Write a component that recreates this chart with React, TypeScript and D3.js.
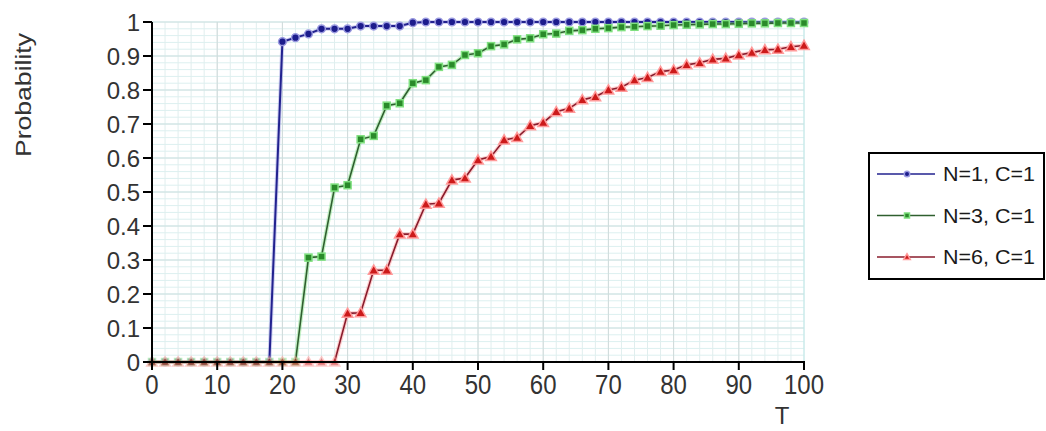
import React from 'react';
import * as d3 from 'd3';

// T values (every 2 units)
const tValues = [0, 2, 4, 6, 8, 10, 12, 14, 16, 18, 20, 22, 24, 26, 28, 30, 32, 34, 36, 38, 40,
  42, 44, 46, 48, 50, 52, 54, 56, 58, 60, 62, 64, 66, 68, 70, 72, 74, 76, 78, 80,
  82, 84, 86, 88, 90, 92, 94, 96, 98, 100];

const n1Values = [0, 0, 0, 0, 0, 0, 0, 0, 0, 0,
  0.942, 0.954, 0.965, 0.98, 0.98, 0.98, 0.988, 0.988, 0.988, 0.988, 0.998,
  1, 1, 1, 1, 1, 1, 1, 1, 1, 1, 1, 1, 1, 1, 1, 1, 1, 1, 1, 1, 1, 1, 1, 1, 1, 1, 1, 1, 1, 1];

const n3Values = [0, 0, 0, 0, 0, 0, 0, 0, 0, 0, 0, 0,
  0.307, 0.31, 0.513, 0.52, 0.655, 0.665, 0.754, 0.761, 0.82, 0.829, 0.868, 0.874, 0.903, 0.908,
  0.929, 0.934, 0.949, 0.952, 0.964, 0.966, 0.974, 0.976, 0.98, 0.982, 0.985, 0.986, 0.988, 0.989,
  0.991, 0.992, 0.993, 0.994, 0.994, 0.995, 0.996, 0.996, 0.997, 0.997, 0.997];

const n6Values = [0, 0, 0, 0, 0, 0, 0, 0, 0, 0, 0, 0, 0, 0, 0,
  0.143, 0.145, 0.27, 0.27, 0.376, 0.376, 0.464, 0.467, 0.535, 0.541, 0.594, 0.604, 0.653, 0.66,
  0.695, 0.704, 0.736, 0.746, 0.771, 0.78, 0.8, 0.808, 0.829, 0.837, 0.854, 0.859, 0.874, 0.88,
  0.89, 0.893, 0.903, 0.91, 0.918, 0.92, 0.927, 0.931];

const seriesNames = ['N=1, C=1', 'N=3, C=1', 'N=6, C=1'];
const xTicks = [0, 10, 20, 30, 40, 50, 60, 70, 80, 90, 100];
const yTicks = [0, 0.1, 0.2, 0.3, 0.4, 0.5, 0.6, 0.7, 0.8, 0.9, 1];

const FONT = '"Liberation Sans", Arial, sans-serif';

const styles = [
  { line: '#22228f', halo: '#9a9ae0', fill: '#1c1c8c', shape: 'circle' },
  { line: '#2f5f2f', halo: '#7fe07f', fill: '#2a8a2a', shape: 'square' },
  { line: '#8a1c2c', halo: '#ff9a9a', fill: '#cc1a1a', shape: 'triangle' },
];

const Marker = ({ shape, x, y, fill, halo, s, opacity }) => {
  if (shape === 'circle') {
    return <circle cx={x} cy={y} r={s * 0.55} fill={fill} stroke={halo} strokeWidth={1.5} opacity={opacity} />;
  }
  if (shape === 'square') {
    return <rect x={x - s * 0.5} y={y - s * 0.5} width={s} height={s} fill={fill} stroke={halo} strokeWidth={1.5} opacity={opacity} />;
  }
  const h = s * 1.1;
  return (
    <path
      d={`M${x},${y - h * 0.6}L${x + h * 0.6},${y + h * 0.45}L${x - h * 0.6},${y + h * 0.45}Z`}
      fill={fill} stroke={halo} strokeWidth={1.5} opacity={opacity}
    />
  );
};

const App = () => {
  const margin = { left: 152, right: 804, top: 22, bottom: 362 };
  const x = d3.scaleLinear().domain([0, 100]).range([margin.left, margin.right]);
  const y = d3.scaleLinear().domain([0, 1]).range([margin.bottom, margin.top]);

  const data = [n1Values, n3Values, n6Values];
  const line = d3.line<number>()
    .x((d, i) => x(tValues[i]))
    .y(d => y(d));

  const minorX = d3.range(0, 101, 2);
  const minorY = d3.range(0, 1.0001, 0.02);

  return (
    <div style={{ position: 'absolute', left: 0, top: 0 }}>
      <svg width={1046} height={431} style={{ display: 'block', background: '#fff' }}>
        {/* grid */}
        <g>
          {minorY.map((v, i) => (
            <line key={'my' + i} x1={margin.left} x2={margin.right} y1={y(v)} y2={y(v)}
              stroke="#dcf0f0" strokeWidth={1} />
          ))}
          {minorX.map((v, i) => (
            <line key={'mx' + i} x1={x(v)} x2={x(v)} y1={margin.top} y2={margin.bottom}
              stroke="#e0eeee" strokeWidth={1} />
          ))}
          {yTicks.map((v, i) => (
            <line key={'gy' + i} x1={margin.left} x2={margin.right} y1={y(v)} y2={y(v)}
              stroke="#cde0e0" strokeWidth={1} />
          ))}
          {xTicks.map((v, i) => (
            <line key={'gx' + i} x1={x(v)} x2={x(v)} y1={margin.top} y2={margin.bottom}
              stroke={v === 100 ? '#bfe8e8' : '#d0dada'} strokeWidth={1} />
          ))}
        </g>

        {/* series lines */}
        {data.map((vals, si) => (
          <g key={'s' + si}>
            <path d={line(vals)} fill="none" stroke={styles[si].halo} strokeWidth={4} opacity={0.45} />
            <path d={line(vals)} fill="none" stroke={styles[si].line} strokeWidth={si === 0 ? 2 : 1.6} />
          </g>
        ))}

        {/* markers */}
        {data.map((vals, si) => (
          <g key={'m' + si}>
            {vals.map((v, i) => (
              <Marker key={i} shape={styles[si].shape} x={x(tValues[i])} y={y(v)}
                fill={styles[si].fill} halo={styles[si].halo}
                s={si === 2 ? 8 : 7} opacity={v === 0 ? 0.5 : 1} />
            ))}
          </g>
        ))}

        {/* axes */}
        <g fontFamily={FONT} fill="#333">
          <line x1={margin.left} x2={margin.left} y1={margin.top} y2={margin.bottom + 1} stroke="#000" strokeWidth={2} />
          <line x1={margin.left - 1} x2={margin.right + 1} y1={margin.bottom} y2={margin.bottom} stroke="#000" strokeWidth={2} />
          {yTicks.map((v, i) => (
            <g key={'yt' + i}>
              <line x1={margin.left - 9} x2={margin.left} y1={y(v)} y2={y(v)} stroke="#000" strokeWidth={2} />
              <text x={margin.left - 12} y={y(v)} dy="0.36em" textAnchor="end" fontSize={24}>
                {d3.format('~g')(v)}
              </text>
            </g>
          ))}
          {xTicks.map((v, i) => (
            <g key={'xt' + i}>
              <line x1={x(v)} x2={x(v)} y1={margin.bottom} y2={margin.bottom + 8} stroke="#000" strokeWidth={2} />
              <text x={x(v)} y={394} textAnchor="middle" fontSize={24}
                transform={`translate(0,${394}) scale(1,1.12) translate(0,${-394})`}>
                {v}
              </text>
            </g>
          ))}
          <text x={782} y={424} textAnchor="middle" fontSize={24}>T</text>
          <text transform="translate(31,95) rotate(-90)" textAnchor="middle" fontSize={22}
            textLength={124} lengthAdjust="spacingAndGlyphs">Probability</text>
        </g>

        {/* legend */}
        <g fontFamily={FONT}>
          <rect x={869} y={153} width={175} height={126} fill="#fff" stroke="#000" strokeWidth={2} />
          {seriesNames.map((name, si) => {
            const ly = 174 + si * 41.5;
            return (
              <g key={'l' + si}>
                <line x1={877} x2={935} y1={ly} y2={ly} stroke={styles[si].line} strokeWidth={1.6} />
                <Marker shape={styles[si].shape} x={907} y={ly} fill={styles[si].fill}
                  halo={styles[si].halo} s={5} opacity={1} />
                <text x={943} y={ly} dy="0.36em" fontSize={20} fill="#1a1a1a"
                  textLength={92} lengthAdjust="spacingAndGlyphs">{name}</text>
              </g>
            );
          })}
        </g>
      </svg>
    </div>
  );
};

export default App;
